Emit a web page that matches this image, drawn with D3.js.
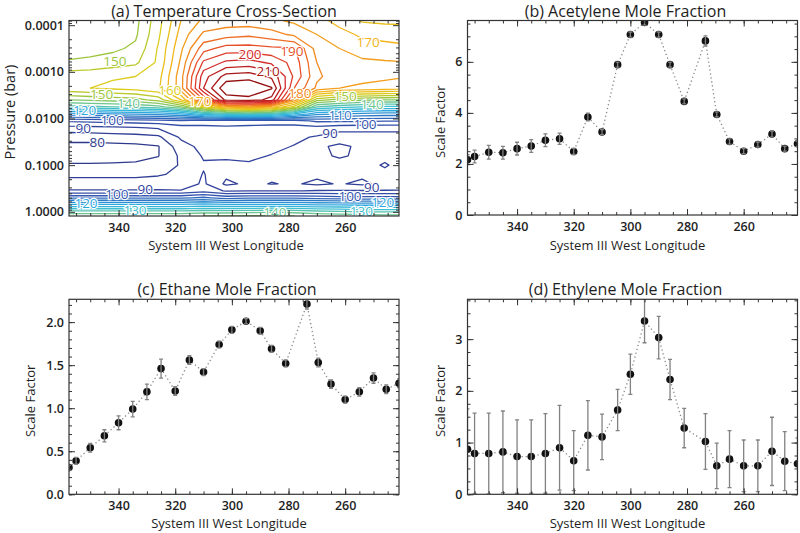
<!DOCTYPE html>
<html><head><meta charset="utf-8">
<script src="https://cdn.jsdelivr.net/npm/d3@7"></script>
<style>
body{margin:0;background:#fff;}
svg{display:block;}
text{font-family:"Open Sans","Noto Sans",sans-serif;fill:#1e1e1e;}
</style></head>
<body><svg id="chart" width="800" height="533"></svg>
<script>
// ---------------- DATA ----------------
const longitudes = [357.5, 355, 350, 345, 340, 335, 330, 325, 320, 315, 310, 304.5, 300, 295, 290, 286, 281, 273.5, 269.5, 265, 260, 255, 250, 245.5, 241];

const acetylene    = [2.16, 2.29, 2.46, 2.44, 2.6, 2.7, 2.93, 2.99, 2.49, 3.84, 3.25, 5.89, 7.07, 7.54, 7.07, 5.89, 4.45, 6.82, 3.94, 2.88, 2.5, 2.76, 3.17, 2.6, 2.79];
const acetyleneErr = [0.2, 0.25, 0.27, 0.25, 0.25, 0.25, 0.25, 0.22, 0.12, 0.15, 0.1, 0.1, 0.1, 0.1, 0.1, 0.1, 0.1, 0.2, 0.1, 0.1, 0.1, 0.1, 0.12, 0.1, 0.1];

const ethane    = [0.31, 0.39, 0.54, 0.68, 0.83, 0.99, 1.19, 1.46, 1.2, 1.56, 1.42, 1.74, 1.91, 2.01, 1.9, 1.69, 1.52, 2.21, 1.53, 1.28, 1.1, 1.19, 1.35, 1.22, 1.29];
const ethaneErr = [0.03, 0.04, 0.05, 0.07, 0.08, 0.09, 0.09, 0.11, 0.05, 0.05, 0.04, 0.04, 0.04, 0.03, 0.04, 0.04, 0.04, 0.06, 0.05, 0.05, 0.04, 0.05, 0.06, 0.05, 0.05];

const ethylene    = [0.87, 0.79, 0.79, 0.82, 0.73, 0.73, 0.79, 0.9, 0.65, 1.14, 1.11, 1.63, 2.32, 3.35, 3.03, 2.22, 1.28, 1.02, 0.55, 0.68, 0.55, 0.55, 0.83, 0.64, 0.59];
const ethyleneErr = [0.78, 0.78, 0.78, 0.79, 0.71, 0.71, 0.77, 0.82, 0.58, 0.67, 0.44, 0.4, 0.39, 0.42, 0.41, 0.39, 0.38, 0.54, 0.44, 0.55, 0.5, 0.5, 0.66, 0.57, 0.5];

// temperature cross-section grid (K): rows = pressure levels, columns = longitudes
const gridLon = [357.5, 350, 342, 334, 326, 318, 310, 302, 294, 286, 278, 270, 262, 254, 246, 241];
const gridPressure = [7.94e-5, 1.585e-4, 3.16e-4, 6.31e-4, 1.259e-3, 2.239e-3, 3.98e-3, 5.62e-3, 7.94e-3, 0.01122, 0.01585, 0.0251, 0.0398, 0.0631, 0.1, 0.158, 0.251, 0.355, 0.501, 0.708, 1.0, 1.23];
const temperature = [
  [146, 146.5, 147, 148.5, 158, 170, 176, 177, 177, 176, 174, 172, 168, 164.5, 164, 164],
  [147, 147.5, 148, 149.2, 159, 172, 181, 183, 184, 182, 179, 175, 172, 169, 168, 167.5],
  [148, 148.5, 149, 151, 160.5, 174, 188, 192, 192, 191, 190.5, 178, 175, 172.5, 172, 171.5],
  [150.5, 151, 152.5, 154, 161, 176, 196, 201, 202, 199, 193, 180, 177, 176, 175.5, 175.3],
  [158, 158.5, 159.5, 160, 163, 178, 203, 212, 213, 209, 194, 181, 177, 176.5, 176, 175.6],
  [159, 160, 161, 162, 164, 178, 205, 219, 220, 215.5, 190, 179, 175, 174, 173, 172],
  [145, 146, 147, 148, 152, 165, 190, 212, 213, 208, 178, 152, 148, 146, 145, 145],
  [133, 134, 135, 136, 138, 145, 160, 172, 175, 172, 158, 135, 132, 130, 129, 129],
  [113, 114, 115, 116, 117, 120, 128, 132, 134, 132, 125, 117, 115, 114, 113, 113],
  [96, 96.5, 97, 97.5, 98, 99, 97, 98, 98, 98, 98, 101, 101, 101, 100.5, 100.5],
  [88, 88.5, 89, 89.5, 90.5, 93, 94, 94, 93.5, 93, 93, 93.5, 92, 91.5, 91.5, 91.5],
  [82, 82, 82.5, 83, 84, 90.8, 92.5, 92.5, 92, 91.5, 91, 89.5, 87.5, 88, 88, 88],
  [78.5, 78.5, 78.6, 78.8, 79.7, 88, 91.5, 92, 91.5, 91, 89.8, 86, 84, 86, 86.5, 86.5],
  [78, 78, 78.2, 78.5, 79.8, 86, 90.5, 91, 90.8, 89.8, 88, 86, 84.5, 85.8, 86, 86.5],
  [80.5, 80.5, 80.6, 80.8, 82, 85.5, 89.5, 88.5, 89.5, 87.5, 87, 86, 86.5, 86.5, 84.6, 86],
  [84, 84, 84, 84, 84.5, 86, 90.3, 86, 87, 86, 86, 86, 86, 86, 86, 86.5],
  [87, 87, 87, 87, 87.5, 87, 90.8, 84, 86, 84.8, 85.5, 84, 85.4, 84, 86.5, 87],
  [90.5, 90.5, 90.5, 90.5, 90.5, 90.3, 93, 89.5, 89.8, 89.8, 89.8, 90.3, 90.3, 90.3, 90.3, 90.3],
  [104, 104, 104, 104, 104, 104, 106, 103, 104, 104, 104, 103, 102, 102, 102, 102],
  [121, 121, 121, 121, 121, 121, 122, 121, 121, 121, 121, 120, 120, 119, 119, 119],
  [137, 137, 137, 137, 137, 137, 138, 138, 138.5, 139.5, 138.5, 137, 136, 135, 135, 135],
  [144, 144, 144, 144, 144, 144, 145, 145, 145.5, 146, 145, 144, 143, 143, 142, 142]
];
const contourLevels = [80, 85, 90, 95, 100, 105, 110, 115, 120, 125, 130, 135, 140, 145, 150, 155, 160, 165, 170, 175, 180, 185, 190, 195, 200, 205, 210, 215];
// contour labels: level, longitude, pressure
const contourLabelLevels = [150, 160, 190, 200, 210, 170, 180, 170, 150, 140, 120, 100, 90, 80, 150, 140, 110, 100, 90, 90, 100, 120, 130, 140, 90, 100, 120, 130];
const contourLabelLon    = [341.3, 321.9, 278.8, 293.6, 287.2, 251.9, 276, 311.3, 346, 336.5, 352, 342.3, 352.5, 347.5, 260, 250.5, 261.8, 253, 265.4, 330.6, 340.6, 351.5, 334.2, 284.8, 250.6, 258.3, 246.8, 254.3];
const contourLabelP      = [5.85e-4, 2.44e-3, 3.57e-4, 4.2e-4, 9.8e-4, 2.29e-4, 2.83e-3, 4.2e-3, 3.1e-3, 4.63e-3, 6.8e-3, 0.011, 0.016, 0.0317, 3.28e-3, 4.87e-3, 8.5e-3, 0.01305, 0.0204, 0.326, 0.425, 0.642, 0.94, 1.0, 0.30, 0.465, 0.625, 0.96];

// tick labels
const lonTicks = [340, 320, 300, 280, 260];
const pressureTicks = [0.0001, 0.001, 0.01, 0.1, 1];
const acetyleneTicks = [0, 2, 4, 6];
const ethaneTicks = [0, 0.5, 1.0, 1.5, 2.0];
const ethyleneTicks = [0, 1, 2, 3];

// ---------------- DRAWING ----------------
const svg = d3.select("#chart");
const defs = svg.append("defs");
const lonDomain = [357.5, 241];
const lonMinor = d3.range(245, 360, 5);

const levelColor = d3.scaleLinear()
  .domain([80, 90, 100, 110, 120, 130, 140, 150, 160, 170, 180, 190, 200, 210, 220])
  .range(["#2e3a8c", "#33449e", "#3456b0", "#2d78c4", "#2ea8df", "#3dbfcf", "#6dc58f", "#9cc63c", "#dccc1c", "#f3b41b", "#f28a21", "#e8502a", "#d42a2a", "#a81818", "#800808"]);

let clipId = 0;
function makeClip(x0, y0, w, h) {
  const id = "clip" + (clipId++);
  defs.append("clipPath").attr("id", id).append("rect").attr("x", x0).attr("y", y0).attr("width", w).attr("height", h);
  return "url(#" + id + ")";
}

function frame(x, y, yMajor, yMinor, yFmt) {
  const [xl, xr] = x.range();
  const yr = y.range();
  const yb = Math.max(...yr), yt = Math.min(...yr);
  const g = svg.append("g");
  const style = s => s.call(a => a.select(".domain").remove())
                      .call(a => a.selectAll("line").attr("stroke", "#333").attr("stroke-width", 1))
                      .call(a => a.selectAll("text").attr("font-size", 12.5).attr("font-weight", 600).attr("fill", "#1e1e1e").attr("font-family", "Open Sans"));
  g.append("g").attr("transform", `translate(0,${yb})`)
    .call(d3.axisBottom(x).tickValues(lonTicks).tickSizeInner(-6).tickSizeOuter(0).tickPadding(7).tickFormat(d3.format("d"))).call(style);
  g.append("g").attr("transform", `translate(0,${yb})`)
    .call(d3.axisBottom(x).tickValues(lonMinor).tickSizeInner(-3).tickSizeOuter(0).tickFormat("")).call(style);
  g.append("g").attr("transform", `translate(0,${yt})`)
    .call(d3.axisTop(x).tickValues(lonTicks).tickSizeInner(-6).tickSizeOuter(0).tickFormat("")).call(style);
  g.append("g").attr("transform", `translate(0,${yt})`)
    .call(d3.axisTop(x).tickValues(lonMinor).tickSizeInner(-3).tickSizeOuter(0).tickFormat("")).call(style);
  g.append("g").attr("transform", `translate(${xl},0)`)
    .call(d3.axisLeft(y).tickValues(yMajor).tickSizeInner(-6).tickSizeOuter(0).tickPadding(5).tickFormat(yFmt)).call(style);
  g.append("g").attr("transform", `translate(${xl},0)`)
    .call(d3.axisLeft(y).tickValues(yMinor).tickSizeInner(-3).tickSizeOuter(0).tickFormat("")).call(style);
  g.append("g").attr("transform", `translate(${xr},0)`)
    .call(d3.axisRight(y).tickValues(yMajor).tickSizeInner(-6).tickSizeOuter(0).tickFormat("")).call(style);
  g.append("g").attr("transform", `translate(${xr},0)`)
    .call(d3.axisRight(y).tickValues(yMinor).tickSizeInner(-3).tickSizeOuter(0).tickFormat("")).call(style);
  g.append("rect").attr("x", xl).attr("y", yt).attr("width", xr - xl).attr("height", yb - yt)
    .attr("fill", "none").attr("stroke", "#333").attr("stroke-width", 1.2);
}

function titles(t, tx, ty, xt, xty, yt, ytx, yty, ySize) {
  svg.append("text").attr("x", tx).attr("y", ty).attr("text-anchor", "middle").attr("font-size", 16).text(t);
  svg.append("text").attr("x", tx + 2).attr("y", xty).attr("text-anchor", "middle").attr("font-size", 13).text(xt);
  svg.append("text").attr("transform", `translate(${ytx},${yty}) rotate(-90)`).attr("text-anchor", "middle").attr("font-size", ySize).text(yt);
}

// ---- Panel (a): temperature contours ----
(function () {
  const x = d3.scaleLinear().domain(lonDomain).range([69, 399]);
  const y = d3.scaleLog().domain([7.94e-5, 1.23]).range([20.5, 216]);
  const clip = makeClip(69, 20.5, 330, 195.5);
  const n = gridLon.length, m = gridPressure.length;
  const values = [];
  temperature.forEach(row => row.forEach(v => values.push(v)));
  const colToLon = d3.scaleLinear().domain(gridLon.map((d, i) => i)).range(gridLon);
  const rowToLogP = d3.scaleLinear().domain(gridPressure.map((d, i) => i)).range(gridPressure.map(p => Math.log10(p)));
  const proj = d3.geoTransform({
    point: function (cx, cy) {
      this.stream.point(x(colToLon(cx - 0.5)), y(Math.pow(10, rowToLogP(cy - 0.5))));
    }
  });
  const path = d3.geoPath(proj);
  const contours = d3.contours().size([n, m]).thresholds(contourLevels)(values);
  const g = svg.append("g").attr("clip-path", clip);
  g.selectAll("path").data(contours).join("path")
    .attr("d", path).attr("fill", "none")
    .attr("stroke", d => levelColor(d.value)).attr("stroke-width", 1.3).attr("stroke-linejoin", "round");
  const lg = svg.append("g").attr("clip-path", clip);
  lg.selectAll("text").data(contourLabelLevels).join("text")
    .attr("x", (d, i) => x(contourLabelLon[i]))
    .attr("y", (d, i) => y(contourLabelP[i]))
    .attr("dy", "0.35em").attr("text-anchor", "middle").attr("font-size", 13.5)
    .style("fill", d => levelColor(d))
    .attr("stroke", "#fff").attr("stroke-width", 2.5).attr("paint-order", "stroke")
    .text(d => d);
  const yMinor = [];
  for (let e = -5; e <= 0; e++) for (let k = 2; k <= 9; k++) { const v = k * Math.pow(10, e); if (v > 7.94e-5 && v < 1.23) yMinor.push(v); }
  frame(x, y, pressureTicks, yMinor, d3.format(".4f"));
  titles("(a) Temperature Cross-Section", 224, 17, "System III West Longitude", 250, "Pressure (bar)", 15, 112, 14.5);
})();

// ---- scatter panels ----
function scatterPanel(box, yDomain, vals, errs, yMajor, yMinorStep, yFmt, title, titleY, xTitleY, yTitleOff) {
  const x = d3.scaleLinear().domain(lonDomain).range([box.x0, box.x1]);
  const y = d3.scaleLinear().domain(yDomain).range([box.yb, box.yt]);
  const clip = makeClip(box.x0, box.yt, box.x1 - box.x0, box.yb - box.yt);
  const g = svg.append("g").attr("clip-path", clip);
  const pts = longitudes.map((lon, i) => ({ lon, v: vals[i], e: errs[i] }));
  g.append("path").datum(pts)
    .attr("d", d3.line().x(d => x(d.lon)).y(d => y(d.v)))
    .attr("fill", "none").attr("stroke", "#8a8a8a").attr("stroke-width", 1.3).attr("stroke-dasharray", "1.3 2.7");
  g.selectAll("circle").data(pts).join("circle")
    .attr("cx", d => x(d.lon)).attr("cy", d => y(d.v)).attr("r", 3.8).attr("fill", "#111");
  const eb = g.append("g").attr("stroke", "#828282").attr("stroke-width", 1.3);
  pts.forEach(d => {
    const xx = x(d.lon), ya = y(d.v - d.e), yb2 = y(d.v + d.e);
    eb.append("line").attr("x1", xx).attr("x2", xx).attr("y1", ya).attr("y2", yb2);
    eb.append("line").attr("x1", xx - 2).attr("x2", xx + 2).attr("y1", ya).attr("y2", ya);
    eb.append("line").attr("x1", xx - 2).attr("x2", xx + 2).attr("y1", yb2).attr("y2", yb2);
  });
  const yMinor = d3.range(yDomain[0], yDomain[1], yMinorStep);
  frame(x, y, yMajor, yMinor, yFmt);
  titles(title, (box.x0 + box.x1) / 2 - 7, titleY, "System III West Longitude", xTitleY, "Scale Factor", box.x0 - yTitleOff, (box.yt + box.yb) / 2 + 4, 13);
}

scatterPanel({ x0: 467.5, x1: 797.5, yt: 20.5, yb: 215 }, [0, 7.62], acetylene, acetyleneErr, acetyleneTicks, 0.5, d3.format("d"), "(b) Acetylene Mole Fraction", 17, 250, 23);
scatterPanel({ x0: 69, x1: 399, yt: 299.3, yb: 494.3 }, [0, 2.265], ethane, ethaneErr, ethaneTicks, 0.1, d3.format(".1f"), "(c) Ethane Mole Fraction", 295, 528, 34);
scatterPanel({ x0: 467.5, x1: 797.5, yt: 299.3, yb: 494.3 }, [0, 3.77], ethylene, ethyleneErr, ethyleneTicks, 0.25, d3.format("d"), "(d) Ethylene Mole Fraction", 295, 528, 23);
</script>
</body></html>
